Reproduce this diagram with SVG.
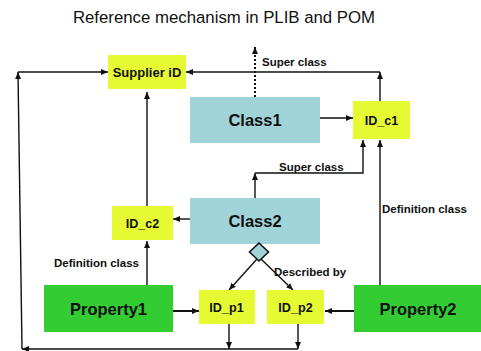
<svg xmlns="http://www.w3.org/2000/svg" width="481" height="351" viewBox="0 0 481 351">
<style>
.t{font-family:"Liberation Sans",Arial,sans-serif;fill:#111;}
.b{font-weight:bold;}
.y{fill:#e6fa34;}
.c{fill:#a0d4d8;}
.g{fill:#33cc33;}
.ln{stroke:#111;stroke-width:1.4;fill:none;}
.th{stroke-width:2;}
.dot{stroke-dasharray:2 2;stroke-width:2;}
</style>
<defs>
<marker id="ah" markerUnits="userSpaceOnUse" markerWidth="8" markerHeight="8" refX="7" refY="4" orient="auto">
<path d="M0,1 L7,4 L0,7 Z" fill="#111"/>
</marker>
</defs>
<rect width="481" height="351" fill="#fff"/>
<text class="t" x="224" y="23" font-size="16.8" text-anchor="middle">Reference mechanism in PLIB and POM</text>

<g id="connectors">
<path class="ln" d="M229,324 V349" marker-end="url(#ah)"/>
<path class="ln" d="M298,324 V349" marker-end="url(#ah)"/>
<path class="ln" d="M298,349 H22" marker-end="url(#ah)"/>
<path class="ln" d="M22,349 L18,72" marker-end="url(#ah)"/>
<path class="ln" d="M18,72 H108" marker-end="url(#ah)"/>
<path class="ln" d="M147,206 V92" marker-end="url(#ah)"/>
<path class="ln" d="M320,118 H353" marker-end="url(#ah)"/>
<path class="ln" d="M380,101 V72" marker-end="url(#ah)"/>
<path class="ln" d="M380,72 H186" marker-end="url(#ah)"/>
<path class="ln dot" d="M255,97 V47" marker-end="url(#ah)"/>
<path class="ln" d="M190,219 H173" marker-end="url(#ah)"/>
<path class="ln" d="M255,198 V173" marker-end="url(#ah)"/>
<path class="ln" d="M255,173 H363 V140" marker-end="url(#ah)"/>
<path class="ln" d="M380,285 V140" marker-end="url(#ah)"/>
<path class="ln" d="M147,285 V241" marker-end="url(#ah)"/>
<path class="ln th" d="M173,311 H199" marker-end="url(#ah)"/>
<path class="ln th" d="M354,311 H325" marker-end="url(#ah)"/>
<path class="ln" d="M257,259 L229,290" marker-end="url(#ah)"/>
<path class="ln" d="M261,259 L293,290" marker-end="url(#ah)"/>
<text class="t b" x="262" y="65.5" font-size="11.5">Super class</text>
<text class="t b" x="279" y="171" font-size="11.5">Super class</text>
<text class="t b" x="54" y="267" font-size="11.5">Definition class</text>
<text class="t b" x="382" y="212.5" font-size="11.5">Definition class</text>
<text class="t b" x="274" y="276" font-size="11.5">Described by</text>
</g>

<g id="supplier">
<rect class="y" x="108" y="55" width="78" height="34"/>
<text class="t b" x="147" y="76.5" font-size="13" text-anchor="middle">Supplier iD</text>
</g>
<g id="class1">
<rect class="c" x="190" y="97" width="130" height="46"/>
<text class="t b" x="255" y="126" font-size="16.5" text-anchor="middle">Class1</text>
</g>
<g id="id_c1">
<rect class="y" x="353" y="101" width="57" height="38"/>
<text class="t b" x="381.5" y="124.5" font-size="12.6" text-anchor="middle">ID_c1</text>
</g>
<g id="class2">
<rect class="c" x="190" y="198" width="130" height="46"/>
<text class="t b" x="255" y="227" font-size="16.5" text-anchor="middle">Class2</text>
</g>
<g id="id_c2">
<rect class="y" x="112" y="206" width="61" height="34"/>
<text class="t b" x="142.5" y="227.5" font-size="12.6" text-anchor="middle">ID_c2</text>
</g>
<g id="diamond">
<path d="M259,243 L268.5,252 L259,261 L249.5,252 Z" fill="#a0d4d8" stroke="#111" stroke-width="1.6"/>
</g>
<g id="property1">
<rect class="g" x="44" y="285" width="129" height="47"/>
<text class="t b" x="108.5" y="315" font-size="16.5" text-anchor="middle">Property1</text>
</g>
<g id="id_p1">
<rect class="y" x="199" y="290" width="56" height="34"/>
<text class="t b" x="226.5" y="312" font-size="12.6" text-anchor="middle">ID_p1</text>
</g>
<g id="id_p2">
<rect class="y" x="267" y="290" width="57" height="34"/>
<text class="t b" x="295.5" y="312" font-size="12.6" text-anchor="middle">ID_p2</text>
</g>
<g id="property2">
<rect class="g" x="354" y="285" width="127" height="47"/>
<text class="t b" x="418" y="315" font-size="16.5" text-anchor="middle">Property2</text>
</g>
</svg>
